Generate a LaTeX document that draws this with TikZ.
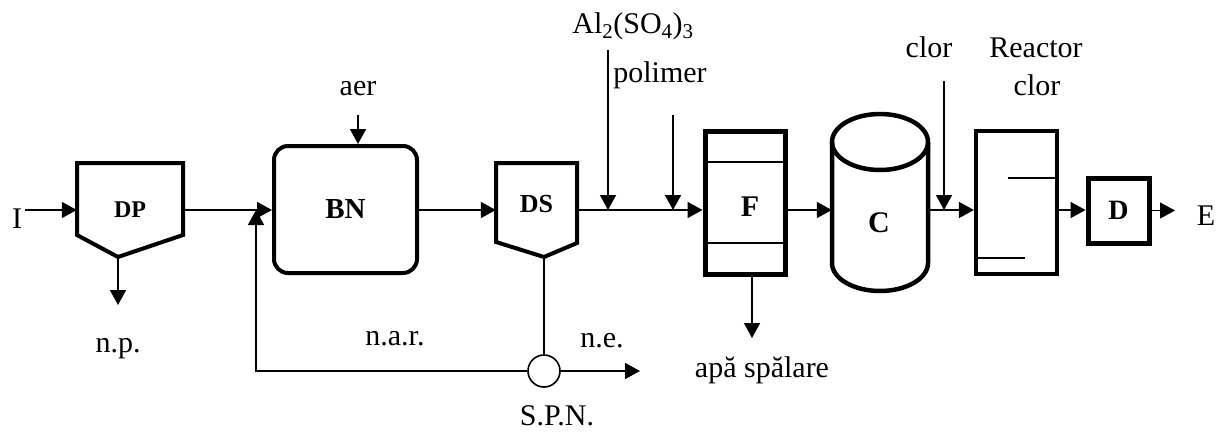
\documentclass[tikz,border=0pt]{standalone}
\usepackage{fontspec}
\setmainfont{Liberation Serif}
\usetikzlibrary{arrows.meta}
\begin{document}
\begin{tikzpicture}[x=1pt,y=-1pt,
  thinline/.style={line width=1.6pt},
  arr/.style={thinline,-{Triangle[length=15pt,width=16pt]}},
  lbl/.style={font=\fontsize{30}{30}\selectfont, anchor=base, inner sep=0pt},
  blbl/.style={font=\fontsize{#1}{#1}\selectfont\bfseries, inner sep=0pt},
  unitbox/.style={rectangle, inner sep=0pt}
]
\useasboundingbox (0,0) rectangle (1227,432);
\coordinate (y0) at (0,210);

% input
\node[lbl] (I) at (17,228) {I};

% DP
\node[unitbox, blbl=24, minimum width=106pt, minimum height=94pt] (DP) at (130,210) {DP};
\draw[line width=4pt] (77,163) -- (183,163) -- (183,235) -- (118,257) -- (77,235) -- cycle;
\coordinate (DPb) at (118,257);
\coordinate (npa) at (118,305);
\node[lbl] (np) at (118,352) {n.p.};

% BN
\node[unitbox, draw, line width=4pt, rounded corners=14pt, minimum width=143pt, minimum height=127pt, blbl=29] (BN) at (345.5,209.5) {BN};
\node[lbl] (aer) at (358,95) {aer};
\coordinate (aerS) at (358,115);
\coordinate (m1) at (256,210);

% DS
\node[unitbox, blbl=26, minimum width=81pt, minimum height=80pt] (DS) at (536.5,204) {DS};
\draw[line width=4pt] (496,163) -- (577,163) -- (577,243) -- (544,257) -- (496,242) -- cycle;
\coordinate (DSb) at (544,257);
\node[circle, draw, fill=white, thinline, minimum size=32pt, inner sep=0pt] (spn) at (544,371) {};
\coordinate (ne) at (640,371);
\node[lbl] (nar) at (395,345) {n.a.r.};
\node[lbl] (nee) at (602,347) {n.e.};
\node[lbl] (spnl) at (557,425) {S.P.N.};

% reagents
\node[lbl] (al) at (633,33) {Al\textsubscript{2}(SO\textsubscript{4})\textsubscript{3}};
\coordinate (alS) at (608,50);
\node[lbl] (pol) at (660,82) {polimer};
\coordinate (polS) at (673,115);

% F
\node[unitbox, draw, line width=5pt, minimum width=80pt, minimum height=143pt] (F) at (745,202.5) {};
\draw[line width=1.3pt] (705,162) -- (785,162);
\draw[line width=1.3pt] (705,243) -- (785,243);
\node[blbl=30] (Fl) at (750,207) {F};
\coordinate (Fo) at (752,338);
\node[lbl] (apa) at (762,377) {apă spălare};

% C
\node[unitbox, minimum width=96pt, minimum height=177pt] (C) at (880,202.5) {};
\draw[line width=4.5pt] (880,142) ellipse [x radius=48pt, y radius=28pt];
\draw[line width=4.5pt] (832,142) -- (832,263) arc[start angle=180, end angle=360, x radius=48pt, y radius=28pt] -- (928,142);
\node[blbl=30] (Cl) at (879,223) {C};

% clor
\node[lbl] (clor1) at (929,57) {clor};
\coordinate (clS) at (944,81);

% reactor
\node[unitbox, draw, line width=4.2pt, minimum width=81pt, minimum height=143pt] (R) at (1016.5,202.5) {};
\draw[line width=1.3pt] (1008,178) -- (1057,178);
\draw[line width=1.3pt] (976,258) -- (1025,258);
\node[lbl] (rc1) at (1036,57) {Reactor};
\node[lbl] (rc2) at (1037,95) {clor};

% D
\node[unitbox, draw, line width=5pt, minimum width=61pt, minimum height=65pt, blbl=28] (D) at (1118.5,210.5) {D};
\coordinate (Eo) at (1175,210.5);
\node[lbl] (E) at (1206,225) {E};

% connectors
\draw[arr, shorten <=3pt] (I.east |- y0) -- (DP.west);
\draw[arr] (DP.east) -- (BN.west |- DP.east);
\draw[arr] (spn.west) -| (m1);
\draw[arr] (DPb) -- (npa);
\draw[arr] (aerS) -- (aerS |- BN.north);
\draw[arr] (BN.east |- y0) -- (DS.west |- y0);
\draw[thinline] (DSb) -- (spn.north);
\draw[arr] (spn.east) -- (ne);
\draw[arr] (DS.east |- y0) -- (F.west |- y0);
\draw[arr] (alS) -- (alS |- y0);
\draw[arr] (polS) -- (polS |- y0);
\draw[arr] (Fo |- F.south) -- (Fo);
\draw[arr] (F.east |- y0) -- (C.west |- y0);
\draw[arr] (C.east |- y0) -- (R.west |- y0);
\draw[arr] (clS) -- (clS |- y0);
\draw[arr] (R.east |- y0) -- (D.west |- y0);
\draw[arr] (D.east) -- (Eo);
\end{tikzpicture}
\end{document}
